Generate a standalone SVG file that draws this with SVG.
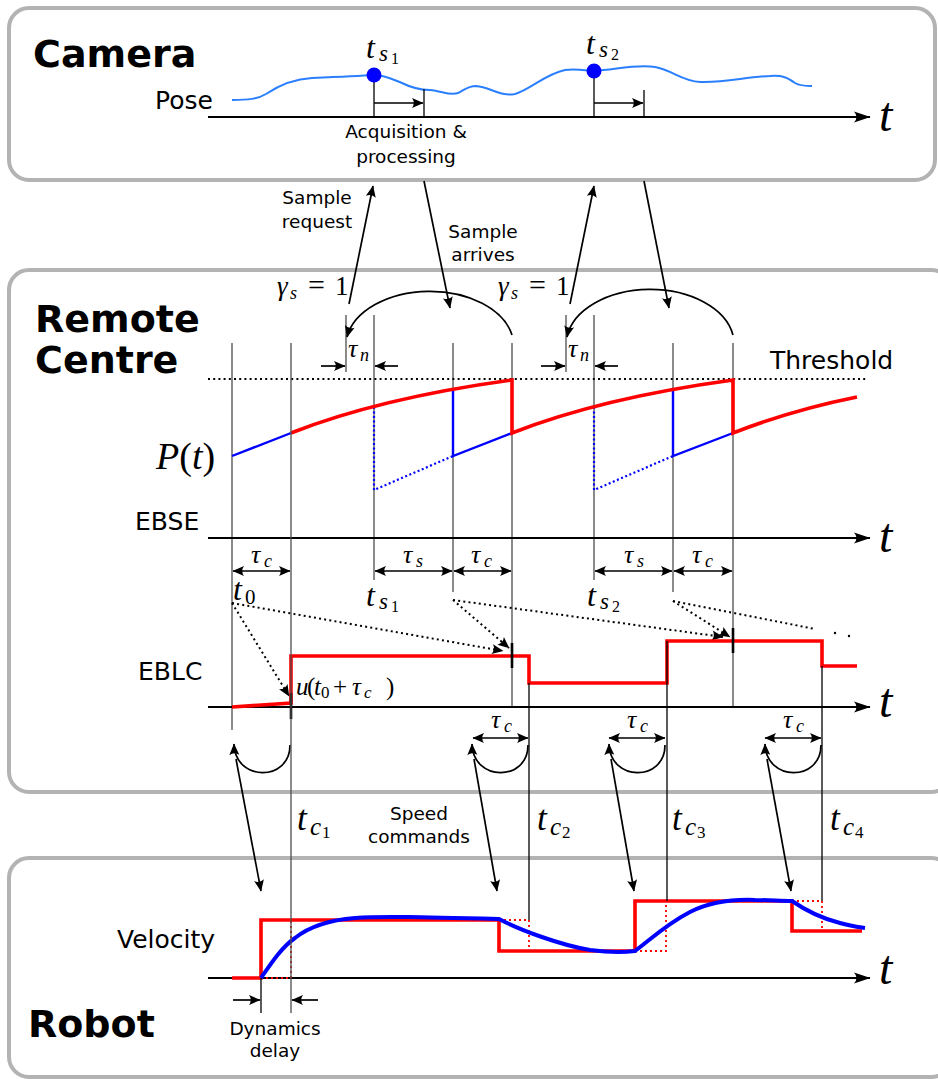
<svg xmlns="http://www.w3.org/2000/svg" width="938" height="1079" viewBox="0 0 938 1079">
<style>
.panel{fill:#fff;stroke:#b3b3b3;stroke-width:4}
.bold{font-family:"DejaVu Sans",sans-serif;font-weight:bold;font-size:38px}
.lab{font-family:"DejaVu Sans",sans-serif;font-size:25px}
.sm{font-family:"DejaVu Sans",sans-serif;font-size:18.5px;text-anchor:middle}
.m{font-family:"Liberation Serif",serif;font-style:italic}
.u{font-style:normal}
.vl{stroke:#4d4d4d;stroke-width:1.3;fill:none}
.bl{stroke:#000;stroke-width:1.3;fill:none}
.tick{stroke:#000;stroke-width:2.6}
.axis{stroke:#000;stroke-width:2;fill:none;marker-end:url(#ax)}
.arr{stroke:#000;stroke-width:1.7;fill:none;marker-end:url(#ah)}
.darr{stroke:#000;stroke-width:1.7;fill:none;marker-start:url(#ah);marker-end:url(#ah)}
.dot{stroke:#000;stroke-width:2;stroke-dasharray:2 3.2;fill:none}
.dota{stroke:#000;stroke-width:2;stroke-dasharray:2 3.2;fill:none;marker-end:url(#ah)}
.red{stroke:#f00;stroke-width:3.6;fill:none}
.redd{stroke:#f00;stroke-width:1.8;stroke-dasharray:2 3;fill:none}
.blue{stroke:#00f;stroke-width:2.4;fill:none}
.blued{stroke:#00f;stroke-width:2.2;stroke-dasharray:2 2.5;fill:none}
.vblue{stroke:#00f;stroke-width:4;fill:none}
</style>
<defs>
<marker id="ah" viewBox="-12 -6 13 12" refX="0" refY="0" markerWidth="13" markerHeight="12" markerUnits="userSpaceOnUse" orient="auto-start-reverse"><path d="M0.5,0 L-11,-5 Q-7.5,0 -11,5 Z" fill="#000"/></marker>
<marker id="ax" viewBox="-17 -7 18 14" refX="0" refY="0" markerWidth="18" markerHeight="14" markerUnits="userSpaceOnUse" orient="auto"><path d="M0.5,0 L-16,-5.5 Q-11,0 -16,5.5 Z" fill="#000"/></marker>
</defs>
<rect width="938" height="1079" fill="#fff"/>

<g id="camera">
<rect class="panel" x="9" y="8" width="926" height="172" rx="20"/>
<text class="bold" x="33" y="67">Camera</text>
<text class="lab" x="155" y="109">Pose</text>
<path d="M232,100 C248,100 258,99 266,94 C278,86 292,79 312,78 C335,77 358,76 374,75 C384,75 392,79 402,83 C412,88 420,90 430,90 C442,91 450,96 458,93 C464,90 468,86 476,86 C490,87 500,97 515,94 C530,90 545,74 565,70 C578,68 586,71 594,71 C615,70 635,64 655,67 C672,70 682,81 700,82 C725,83 745,77 770,76 C783,75 788,78 795,83 C800,86 806,86 812,86" stroke="#2a7fff" stroke-width="2" fill="none"/>
<line class="axis" x1="208" y1="117" x2="870" y2="117"/>
<text class="m" x="879" y="131" font-size="48">t</text>
<line class="bl" x1="374" y1="75" x2="374" y2="117"/>
<line class="bl" x1="594" y1="71" x2="594" y2="117"/>
<line class="bl" x1="424" y1="89" x2="424" y2="117"/>
<line class="bl" x1="644" y1="90" x2="644" y2="117"/>
<line class="arr" x1="374" y1="103" x2="423" y2="103"/>
<line class="arr" x1="594" y1="103" x2="643" y2="103"/>
<circle cx="374" cy="75" r="7.5" fill="#00f"/>
<circle cx="594" cy="71" r="7.5" fill="#00f"/>
<text class="m" font-size="32"><tspan x="366" y="58">t</tspan><tspan x="379" y="61" font-size="23">s</tspan><tspan class="u" x="391" y="64" font-size="16">1</tspan></text>
<text class="m" font-size="32"><tspan x="586" y="54">t</tspan><tspan x="599" y="57" font-size="23">s</tspan><tspan class="u" x="611" y="60" font-size="16">2</tspan></text>
<text class="sm" x="406" y="138">Acquisition &amp;</text>
<text class="sm" x="406" y="163">processing</text>
</g>

<g id="remote">
<rect class="panel" x="9" y="270" width="942" height="522" rx="20"/>
<text class="bold" x="35" y="332">Remote</text>
<text class="bold" x="35" y="373">Centre</text>
<text class="lab" x="770" y="369" font-size="26">Threshold</text>
<text class="lab" x="135" y="530">EBSE</text>
<text class="lab" x="138" y="680">EBLC</text>
<text class="m" x="156" y="469" font-size="38">P<tspan class="u">(</tspan>t<tspan class="u">)</tspan></text>
<!-- vertical guides -->
<line class="vl" x1="232" y1="343" x2="232" y2="730"/>
<line class="vl" x1="346" y1="315" x2="346" y2="372"/>
<line class="vl" x1="374" y1="315" x2="374" y2="580"/>
<line class="vl" x1="453" y1="343" x2="453" y2="592"/>
<line class="vl" x1="512" y1="343" x2="512" y2="707"/>
<line class="vl" x1="566" y1="315" x2="566" y2="372"/>
<line class="vl" x1="594" y1="315" x2="594" y2="580"/>
<line class="vl" x1="673" y1="343" x2="673" y2="592"/>
<line class="vl" x1="733" y1="343" x2="733" y2="707"/>
<!-- threshold -->
<line class="dot" x1="208" y1="379" x2="868" y2="379"/>
<!-- P(t) -->
<path class="blued" d="M374,407 V490 L453,456"/>
<path class="blued" d="M594,407 V490 L673,456"/>
<path class="blue" d="M232,456 L291,433"/>
<path class="blue" d="M453,390 V456 L512,433"/>
<path class="blue" d="M673,390 V456 L733,433"/>
<path class="red" d="M291,433 Q380,398 512,380 V433 Q601,398 733,380 V433 Q792,410 857,397"/>
<!-- tau_n -->
<line class="arr" x1="321" y1="366" x2="345" y2="366"/>
<line class="arr" x1="398" y1="366" x2="375" y2="366"/>
<line class="arr" x1="541" y1="366" x2="565" y2="366"/>
<line class="arr" x1="618" y1="366" x2="595" y2="366"/>
<text class="m" font-size="26"><tspan x="348" y="357">τ</tspan><tspan x="360" y="361" font-size="18">n</tspan></text>
<text class="m" font-size="26"><tspan x="568" y="357">τ</tspan><tspan x="580" y="361" font-size="18">n</tspan></text>
<!-- gamma arcs -->
<path class="arr" d="M512,335 A84 55 0 0 0 347,337"/>
<path class="arr" d="M733,335 A84 55 0 0 0 567,337"/>
<text class="m" font-size="27"><tspan x="277" y="295">γ</tspan><tspan x="290" y="299" font-size="18">s</tspan><tspan class="u" x="308" y="295" font-size="30">=</tspan><tspan class="u" x="335" y="295">1</tspan></text>
<text class="m" font-size="27"><tspan x="498" y="295">γ</tspan><tspan x="511" y="299" font-size="18">s</tspan><tspan class="u" x="529" y="295" font-size="30">=</tspan><tspan class="u" x="556" y="295">1</tspan></text>
<!-- EBSE axis -->
<line class="axis" x1="208" y1="538" x2="870" y2="538"/>
<text class="m" x="879" y="552" font-size="48">t</text>
<line class="darr" x1="233" y1="571" x2="290" y2="571"/>
<line class="darr" x1="375" y1="571" x2="452" y2="571"/>
<line class="darr" x1="454" y1="571" x2="511" y2="571"/>
<line class="darr" x1="595" y1="571" x2="672" y2="571"/>
<line class="darr" x1="674" y1="571" x2="732" y2="571"/>
<text class="m" font-size="26"><tspan x="251" y="563">τ</tspan><tspan x="264" y="567" font-size="18">c</tspan></text>
<text class="m" font-size="26"><tspan x="403" y="563">τ</tspan><tspan x="416" y="567" font-size="18">s</tspan></text>
<text class="m" font-size="26"><tspan x="471" y="563">τ</tspan><tspan x="484" y="567" font-size="18">c</tspan></text>
<text class="m" font-size="26"><tspan x="624" y="563">τ</tspan><tspan x="637" y="567" font-size="18">s</tspan></text>
<text class="m" font-size="26"><tspan x="692" y="563">τ</tspan><tspan x="705" y="567" font-size="18">c</tspan></text>
<text class="m" font-size="32"><tspan x="233" y="600">t</tspan><tspan class="u" x="245" y="604" font-size="21">0</tspan></text>
<text class="m" font-size="32"><tspan x="366" y="606">t</tspan><tspan x="379" y="609" font-size="23">s</tspan><tspan class="u" x="391" y="612" font-size="16">1</tspan></text>
<text class="m" font-size="32"><tspan x="587" y="606">t</tspan><tspan x="600" y="609" font-size="23">s</tspan><tspan class="u" x="612" y="612" font-size="16">2</tspan></text>
<!-- dotted links -->
<line class="dota" x1="232" y1="603" x2="289" y2="696"/>
<line class="dota" x1="232" y1="603" x2="503" y2="651"/>
<line class="dota" x1="453" y1="600" x2="509" y2="648"/>
<line class="dota" x1="453" y1="600" x2="723" y2="637"/>
<line class="dota" x1="673" y1="601" x2="730" y2="637"/>
<line class="dot" x1="673" y1="601" x2="815" y2="629"/>
<circle cx="835" cy="633" r="1.2"/>
<circle cx="849" cy="636" r="1.2"/>
<!-- EBLC -->
<line class="axis" x1="208" y1="707" x2="870" y2="707"/>
<text class="m" x="879" y="717" font-size="48">t</text>
<path class="red" d="M232,707 L291,703 V656 H529 V683 H667 V641 H822 V666 H857"/>
<line class="tick" x1="291" y1="693" x2="291" y2="719"/>
<line class="tick" x1="512" y1="643" x2="512" y2="668"/>
<line class="tick" x1="733" y1="628" x2="733" y2="653"/>
<text class="m" font-size="25"><tspan x="296" y="695">u</tspan><tspan class="u" x="307" y="695">(</tspan><tspan x="314" y="695">t</tspan><tspan class="u" x="321" y="698" font-size="17">0</tspan><tspan class="u" x="333" y="695">+</tspan><tspan x="352" y="695">τ</tspan><tspan x="364" y="698" font-size="17">c</tspan><tspan class="u" x="386" y="695">)</tspan></text>
<!-- lower tau_c -->
<line class="darr" x1="473" y1="738" x2="528" y2="738"/>
<line class="darr" x1="609" y1="738" x2="665" y2="738"/>
<line class="darr" x1="765" y1="738" x2="821" y2="738"/>
<text class="m" font-size="26"><tspan x="491" y="728">τ</tspan><tspan x="504" y="732" font-size="18">c</tspan></text>
<text class="m" font-size="26"><tspan x="627" y="728">τ</tspan><tspan x="640" y="732" font-size="18">c</tspan></text>
<text class="m" font-size="26"><tspan x="783" y="728">τ</tspan><tspan x="796" y="732" font-size="18">c</tspan></text>
<path class="arr" d="M290,745 C290,782 235,782 234,744"/>
<path class="arr" d="M528,745 C528,782 473,782 472,744"/>
<path class="arr" d="M665,745 C665,782 610,782 609,744"/>
<path class="arr" d="M821,745 C821,782 766,782 765,744"/>
</g>

<g id="robot">
<rect class="panel" x="9" y="858" width="942" height="219" rx="20"/>
<text class="bold" x="28" y="1037">Robot</text>
<text class="lab" x="117" y="948">Velocity</text>
<line class="axis" x1="208" y1="978" x2="870" y2="978"/>
<text class="m" x="879" y="984" font-size="48">t</text>
<path class="red" d="M232,978 H261 V920 H499 V951 H635 V901 H792 V931 H862"/>
<path class="redd" d="M261,978 H291 V920 M499,920 H529 V951 M635,951 H666 V901 M792,901 H822 V931"/>
<path class="vblue" d="M261,978 C272,962 282,947 295,938 C310,926 330,920 355,918 C380,916 420,917 499,919 C520,930 560,945 590,950 C605,952 620,953 635,951 C650,940 665,925 690,912 C710,902 730,899 755,900 C770,900 780,901 792,901 C805,910 820,918 840,923 C850,926 858,927 865,928"/>
<line class="bl" x1="261" y1="978" x2="261" y2="1013"/>
<line class="arr" x1="233" y1="1000" x2="260" y2="1000"/>
<line class="arr" x1="318" y1="1000" x2="292" y2="1000"/>
<text class="sm" x="275" y="1035" font-size="19">Dynamics</text>
<text class="sm" x="275" y="1057" font-size="19">delay</text>
</g>

<g id="connectors">
<line class="vl" x1="291" y1="343" x2="291" y2="1013"/>
<line class="bl" x1="529" y1="683" x2="529" y2="920"/>
<line class="bl" x1="667" y1="641" x2="667" y2="901"/>
<line class="bl" x1="822" y1="666" x2="822" y2="901"/>
<line class="arr" x1="349" y1="304" x2="373" y2="186"/>
<line class="arr" x1="570" y1="304" x2="594" y2="186"/>
<line class="arr" x1="424" y1="181" x2="450" y2="308"/>
<line class="arr" x1="644" y1="181" x2="669" y2="308"/>
<line class="arr" x1="236" y1="759" x2="261" y2="891"/>
<line class="arr" x1="474" y1="759" x2="497" y2="891"/>
<line class="arr" x1="611" y1="759" x2="634" y2="891"/>
<line class="arr" x1="767" y1="759" x2="791" y2="891"/>
<text class="sm" x="317" y="204">Sample</text>
<text class="sm" x="317" y="228">request</text>
<text class="sm" x="483" y="238">Sample</text>
<text class="sm" x="483" y="261">arrives</text>
<text class="sm" x="419" y="820" font-size="19">Speed</text>
<text class="sm" x="419" y="843" font-size="19">commands</text>
<text class="m" font-size="35"><tspan x="297" y="830">t</tspan><tspan x="310" y="835" font-size="25">c</tspan><tspan class="u" x="322" y="838" font-size="17">1</tspan></text>
<text class="m" font-size="35"><tspan x="537" y="830">t</tspan><tspan x="550" y="835" font-size="25">c</tspan><tspan class="u" x="562" y="838" font-size="17">2</tspan></text>
<text class="m" font-size="35"><tspan x="672" y="830">t</tspan><tspan x="685" y="835" font-size="25">c</tspan><tspan class="u" x="697" y="838" font-size="17">3</tspan></text>
<text class="m" font-size="35"><tspan x="830" y="830">t</tspan><tspan x="843" y="835" font-size="25">c</tspan><tspan class="u" x="855" y="838" font-size="17">4</tspan></text>
</g>
</svg>
